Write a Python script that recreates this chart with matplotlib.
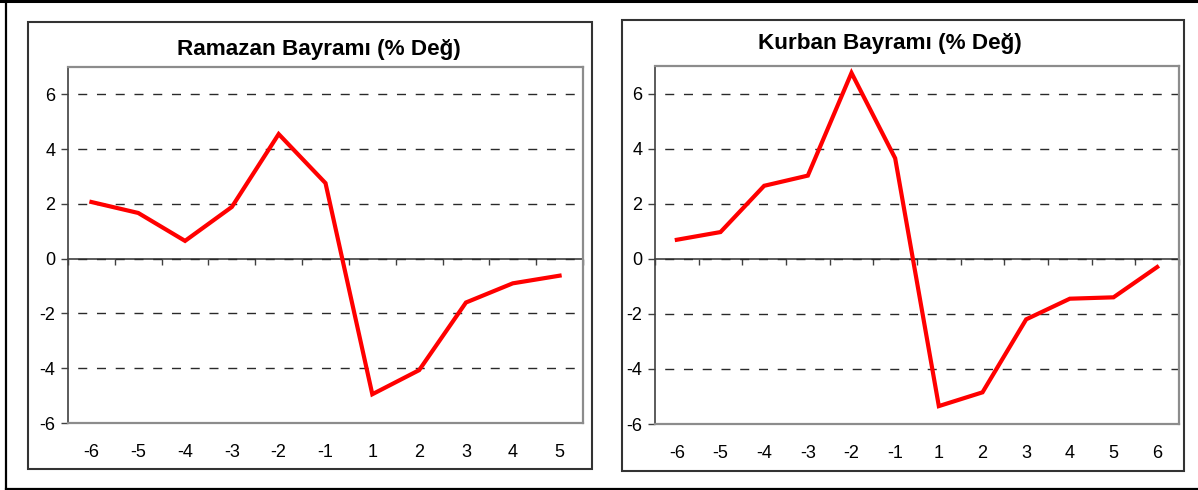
import matplotlib
matplotlib.use('Agg')
import matplotlib.pyplot as plt
import matplotlib.patches as mpatches
import matplotlib.lines as mlines
import numpy as np

plt.rcParams['font.family'] = ['Liberation Sans', 'DejaVu Sans']

# data
ramazan_labels = ['-6', '-5', '-4', '-3', '-2', '-1', '1', '2', '3', '4', '5']
ramazan_values = [2.07, 1.67, 0.65, 1.89, 4.55, 2.76, -4.95, -4.07, -1.60, -0.90, -0.62]

kurban_labels = ['-6', '-5', '-4', '-3', '-2', '-1', '1', '2', '3', '4', '5', '6']
kurban_values = [0.69, 0.97, 2.65, 3.02, 6.75, 3.65, -5.35, -4.85, -2.20, -1.45, -1.40, -0.30]

yticks = [-6, -4, -2, 0, 2, 4, 6]

W, H = 1198, 490


def fx(px):
    return px / W


def fy(py):
    return 1 - py / H


def panel(fig, box, axbox, title, title_xy, labels, values):
    # outer panel frame
    x0, y0, x1, y1 = box
    fig.add_artist(mpatches.Rectangle((fx(x0), fy(y1)), fx(x1 - x0), (y1 - y0) / H,
                                      transform=fig.transFigure, fill=False,
                                      edgecolor='#333333', lw=1.5))
    fig.text(fx(title_xy[0]), fy(title_xy[1]), title, ha='center', va='center',
             fontsize=16.2, fontweight='bold', color='black')

    ax0, ay0, ax1, ay1 = axbox
    ax = fig.add_axes([fx(ax0), fy(ay1), fx(ax1 - ax0), (ay1 - ay0) / H])
    n = len(labels)
    x = np.arange(n)
    ax.set_xlim(-0.5, n - 0.5)
    ax.set_ylim(-6, 7)

    for s in ['top', 'right', 'bottom']:
        ax.spines[s].set_color('#8c8c8c')
        ax.spines[s].set_linewidth(1.6)
    ax.spines['left'].set_color('#404040')
    ax.spines['left'].set_linewidth(1.2)

    ax.set_yticks(yticks)
    ax.set_yticklabels([str(t) for t in yticks])
    ax.tick_params(axis='y', direction='out', length=5, width=1, color='#404040',
                   labelsize=13, pad=4)
    ax.set_xticks(x)
    ax.set_xticklabels(labels)
    ax.tick_params(axis='x', length=0, labelsize=13, pad=15)

    ax.grid(axis='y', linestyle=(6.5, (6.5, 7)), color='#2a2a2a', lw=1.0)
    ax.set_axisbelow(True)

    # category axis crossing at zero, with ticks between categories
    sec = ax.secondary_xaxis(0, transform=ax.transData)
    sec.spines['bottom'].set_color('#404040')
    sec.spines['bottom'].set_linewidth(1.2)
    sec.set_xticks(np.arange(n + 1) - 0.5)
    sec.tick_params(direction='out', length=4, width=1, color='#404040', labelbottom=False)

    ax.plot(x, values, color='#ff0000', lw=3, solid_joinstyle='miter', zorder=5)
    return ax


fig = plt.figure(figsize=(W / 100, H / 100), dpi=100)

# outer frame (top, left, bottom)
fig.add_artist(mlines.Line2D([0, 1], [fy(1.5), fy(1.5)], transform=fig.transFigure,
                             color='black', lw=2.2))
fig.add_artist(mlines.Line2D([fx(6), fx(6)], [fy(0), fy(488.5)], transform=fig.transFigure,
                             color='black', lw=1.6))
fig.add_artist(mlines.Line2D([fx(6), 1], [fy(488.5), fy(488.5)], transform=fig.transFigure,
                             color='black', lw=1.6))

panel(fig, (28, 22, 592, 469), (68, 67, 583, 423),
      'Ramazan Bayramı (% Değ)', (319, 50), ramazan_labels, ramazan_values)
panel(fig, (622, 20, 1184, 471), (655, 66, 1179, 424),
      'Kurban Bayramı (% Değ)', (890, 43), kurban_labels, kurban_values)

fig.savefig('out.png', dpi=100)
